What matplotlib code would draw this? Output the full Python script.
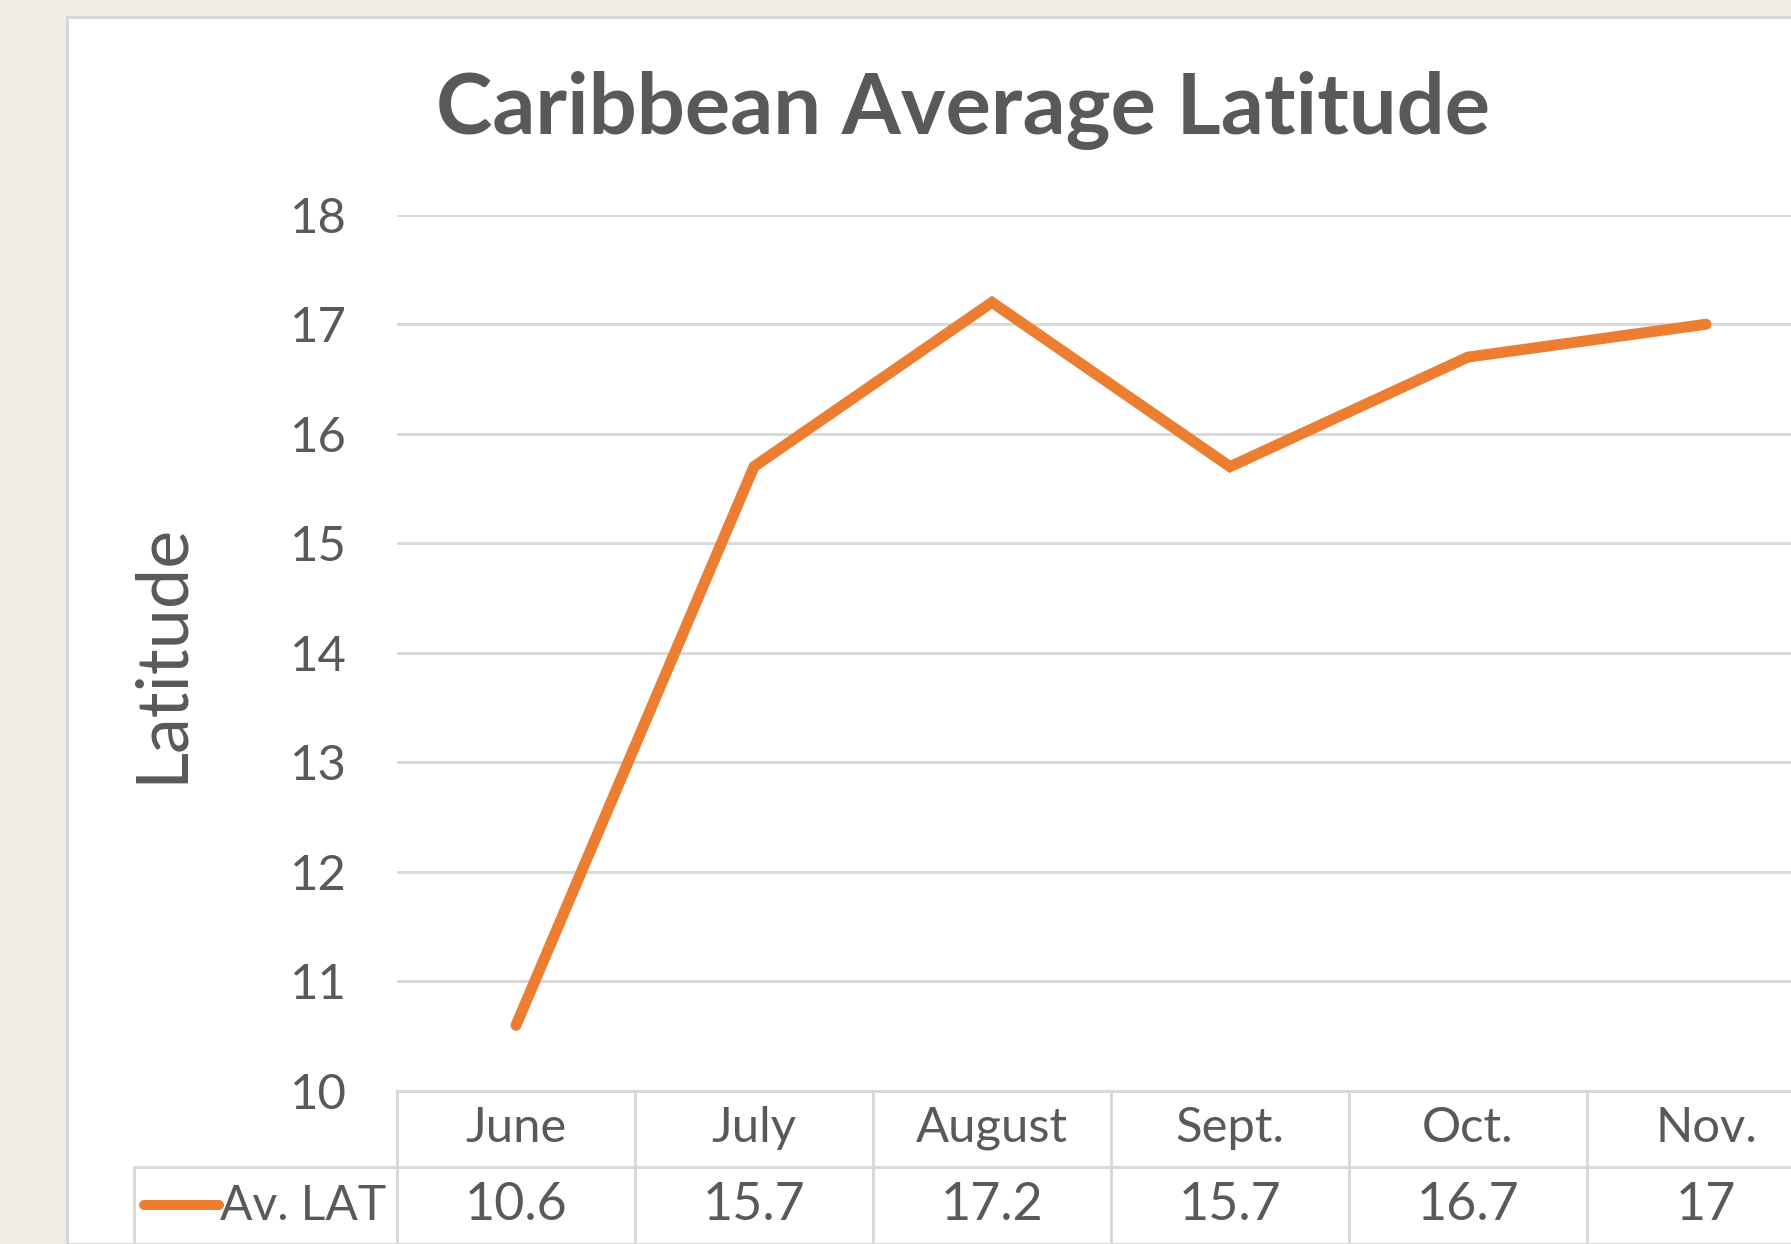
import numpy as np
import matplotlib.pyplot as plt
import matplotlib.transforms as mtransforms
from matplotlib.patches import Rectangle

months = ['June', 'July', 'August', 'Sept.', 'Oct.', 'Nov.']
av_lat = [10.6, 15.7, 17.2, 15.7, 16.7, 17]
value_labels = ['10.6', '15.7', '17.2', '15.7', '16.7', '17']
series_name = 'Av. LAT'
y_ticks = np.arange(10, 19, 1)

W, H = 1791, 1244
txt = '#595959'
grid = '#D9D9D9'
orange = '#ED7D31'

plt.rcParams['font.family'] = ['Lato', 'DejaVu Sans']

fig = plt.figure(figsize=(W / 72, H / 72), dpi=72)
fig.patch.set_facecolor('#EFECE5')

fx = lambda px: px / W
fy = lambda py: 1 - py / H

# white chart area with thin grey frame
fig.patches.append(Rectangle((fx(67), 0), 1.2, fy(17), transform=fig.transFigure,
                             facecolor='white', edgecolor='#D6D6D6', linewidth=3, zorder=-5))

ax = fig.add_axes([fx(397), fy(1091), 1428 / W, (1091 - 214.7) / H])
ax.set_zorder(2)
ax.set_facecolor('none')
x = np.arange(len(months))
ax.plot(x, av_lat, color=orange, linewidth=11, solid_capstyle='round', solid_joinstyle='miter', zorder=3)

ax.set_xlim(-0.5, len(months) - 0.5)
ax.set_ylim(10, 18)
ax.set_yticks(y_ticks)
ax.set_yticklabels([str(t) for t in y_ticks], fontsize=49, color=txt)
ax.tick_params(axis='y', length=0, pad=50)
ax.set_xticks([])
ax.grid(axis='y', color=grid, linewidth=3)
for s in ax.spines.values():
    s.set_visible(False)
ax.set_axisbelow(True)

ax.set_ylabel('Latitude', fontsize=72, color=txt)
ax.yaxis.set_label_coords(-(397 - 194) / 1428, 0.5)

fig.text(fx(963), fy(110), 'Caribbean Average Latitude', fontsize=85, fontweight='bold',
         color=txt, ha='center', va='center')

# data table under the axis
bt = mtransforms.blended_transform_factory(ax.transData, fig.transFigure)
row_top, row_mid, row_bot = 1091, 1167, 1250
lkw = dict(color=grid, linewidth=3, clip_on=False, zorder=1)
ax.plot([-0.5, len(months) - 0.5], [fy(row_top)] * 2, transform=bt, **lkw)
ax.plot([-0.5, len(months) - 0.5], [fy(row_mid)] * 2, transform=bt, **lkw)
fig.add_artist(plt.Line2D([fx(134), fx(397)], [fy(row_mid)] * 2, transform=fig.transFigure, **lkw))
fig.add_artist(plt.Line2D([fx(134), fx(134)], [fy(row_mid), fy(row_bot)], transform=fig.transFigure, **lkw))
for b in np.arange(-0.5, len(months), 1.0):
    ax.plot([b, b], [fy(row_top), fy(row_bot)], transform=bt, **lkw)

for i, (m, v) in enumerate(zip(months, value_labels)):
    ax.text(i, fy(1128), m, transform=bt, ha='center', va='center', fontsize=49, color=txt)
    ax.text(i, fy(1206), v, transform=bt, ha='center', va='center', fontsize=52, color=txt)

fig.add_artist(plt.Line2D([fx(144), fx(219)], [fy(1205)] * 2, transform=fig.transFigure,
                          color=orange, linewidth=10, solid_capstyle='round'))
fig.text(fx(386), fy(1206), series_name, ha='right', va='center', fontsize=48, color=txt)

fig.savefig('out.png', dpi=72, facecolor=fig.get_facecolor())
